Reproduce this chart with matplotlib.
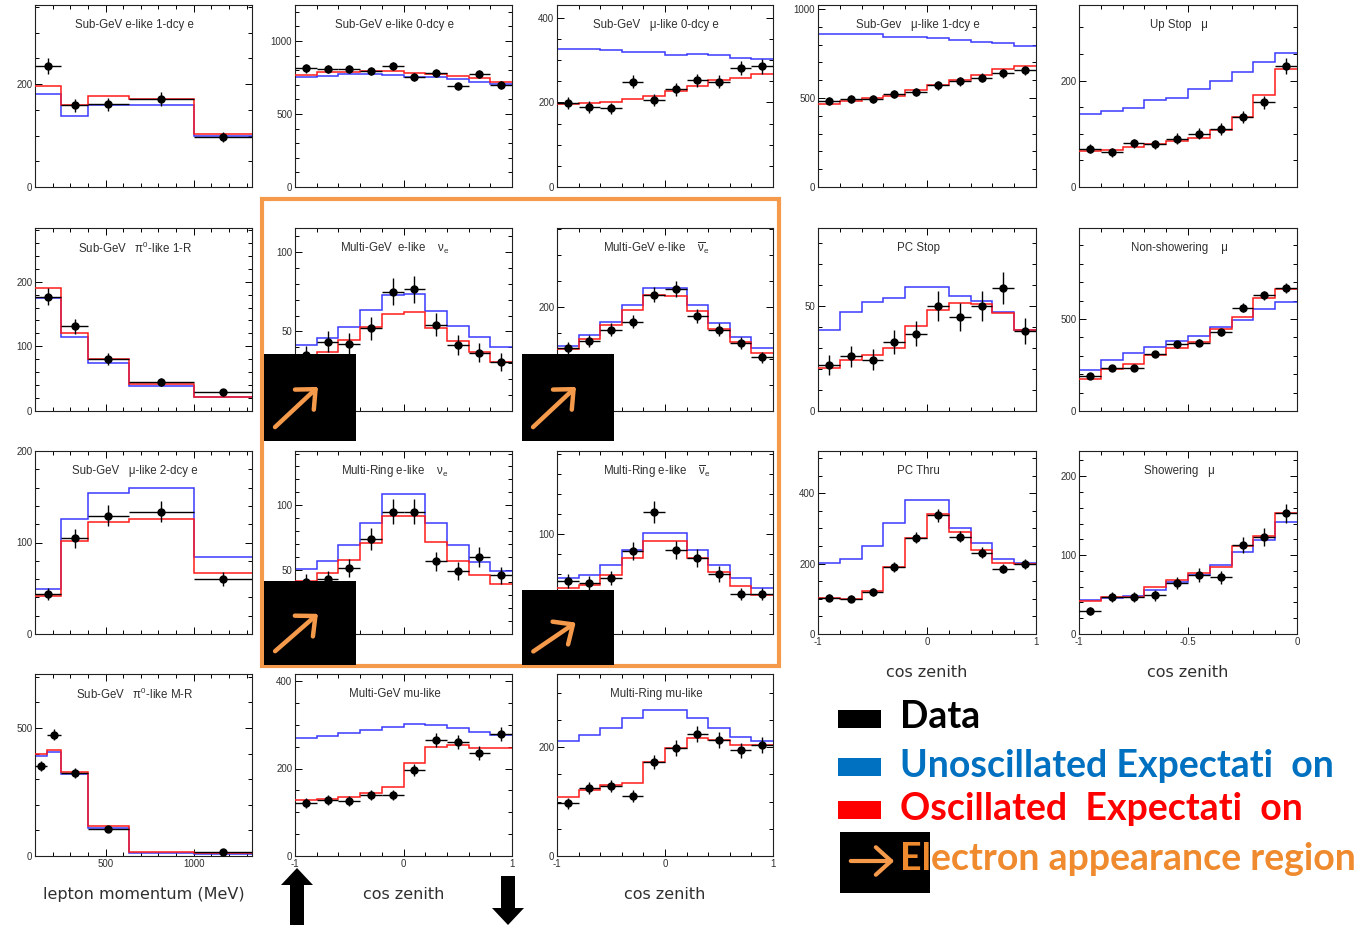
import numpy as np
import matplotlib
matplotlib.use("Agg")
import matplotlib.pyplot as plt
from matplotlib.ticker import MultipleLocator, FormatStrFormatter
from matplotlib.patches import Rectangle, FancyArrowPatch, Polygon

plt.rcParams['axes.unicode_minus'] = False
plt.rcParams['mathtext.default'] = 'regular'
plt.rcParams['font.family'] = ['Liberation Sans', 'DejaVu Sans']

W, H = 1372, 925

# binning
mom_edges = [100, 250, 400, 630, 1000, 1330]
pi0mr_edges = [100, 170, 250, 400, 630, 1000, 1330]
cosz_edges = np.round(np.linspace(-1, 1, 11), 2)
upmu_edges = np.round(np.linspace(-1, 0, 11), 2)

# Sub-GeV e-like 1-dcy e
sge1d_unosc = [180, 138, 160, 159, 99]
sge1d_osc = [197, 160, 177, 171, 103]
sge1d_data = [236, 159, 161, 171, 97]

# Sub-GeV e-like 0-dcy e
sge0d_unosc = [751, 760, 771, 773, 764, 755, 751, 741, 721, 703]
sge0d_osc = [767, 789, 789, 794, 794, 783, 773, 760, 744, 721]
sge0d_data = [812, 808, 808, 794, 831, 755, 783, 693, 773, 698]

# Sub-GeV mu-like 0-dcy e
sgmu0d_unosc = [326, 326, 324, 318, 318, 312, 314, 312, 304, 302]
sgmu0d_osc = [195, 198, 202, 209, 214, 227, 238, 252, 257, 266]
sgmu0d_data = [198, 189, 186, 249, 206, 231, 252, 249, 281, 285]

# Sub-GeV mu-like 1-dcy e
sgmu1d_unosc = [858, 858, 858, 845, 845, 838, 823, 815, 806, 791]
sgmu1d_osc = [468, 485, 498, 509, 543, 571, 603, 631, 660, 681]
sgmu1d_data = [481, 496, 496, 522, 532, 571, 593, 614, 640, 655]

# Upward stopping mu
upstop_unosc = [138, 143, 148, 164, 168, 184, 199, 216, 234, 251]
upstop_osc = [68, 70, 75, 81, 86, 93, 108, 131, 173, 221]
upstop_data = [72, 65, 82, 80, 91, 100, 109, 132, 159, 228]

# Sub-GeV pi0-like 1-R
sgpi1r_unosc = [175, 115, 75, 39, 21]
sgpi1r_osc = [190, 120, 80, 41, 22]
sgpi1r_data = [177, 131, 80, 45, 29]

# Multi-GeV e-like nu_e
mge_nue_unosc = [41.4, 45.6, 53, 63.5, 73, 73.6, 63, 53.6, 46.8, 40.3]
mge_nue_osc = [33, 37.3, 44.5, 52.5, 61, 62, 52, 43.9, 37.1, 31]
mge_nue_data = [35, 43.5, 42.4, 52, 75, 76.4, 54.2, 41.6, 36.7, 31]

# Multi-GeV e-like nu_e bar
mge_nuebar_unosc = [125.6, 147, 172, 204.5, 236, 236, 204.5, 169, 142, 121]
mge_nuebar_osc = [118.6, 139, 165, 195, 224, 222, 192, 158, 132, 112]
mge_nuebar_data = [121, 135, 156, 172, 224, 235, 183, 156, 131, 103]

# PC stop
pcstop_unosc = [38.4, 47.1, 51.9, 53.5, 59, 59, 54.8, 52.2, 46.9, 38.6]
pcstop_osc = [20.6, 24.1, 26.8, 30, 40.3, 47.9, 51.4, 51.1, 46.7, 38.4]
pcstop_data = [22, 26, 24.4, 32.9, 36.8, 50, 44.8, 50, 58.3, 38.1]

# Non-showering upward-through mu
nonshow_unosc = [222, 276, 313, 349, 382, 409, 455, 495, 553, 595]
nonshow_osc = [176, 227, 256, 304, 344, 373, 447, 513, 613, 662]
nonshow_data = [191, 236, 236, 309, 362, 371, 427, 562, 629, 669]

# Sub-GeV mu-like 2-dcy e
sgmu2d_unosc = [49.5, 125.6, 153.8, 159.3, 84.2]
sgmu2d_osc = [41.4, 101.8, 122.7, 125.6, 67]
sgmu2d_data = [44, 104.4, 129.3, 133.7, 59.7]

# Multi-Ring e-like nu_e
mre_nue_unosc = [50.5, 56.9, 69, 85.9, 108.7, 108.7, 85.9, 69, 56.2, 49.2]
mre_nue_osc = [41.5, 47.4, 57.7, 70.5, 91.5, 91.5, 71.5, 56.9, 45.4, 39]
mre_nue_data = [40, 42.3, 51.3, 73.6, 94.9, 94.9, 56.4, 48.7, 59.5, 45.4]

# Multi-Ring e-like nu_e bar
mre_nuebar_unosc = [56, 59, 69, 84, 101, 101, 84, 69, 56, 46]
mre_nuebar_osc = [46, 49, 59, 76, 93, 93, 76, 62, 48, 39]
mre_nuebar_data = [53, 51, 56, 83, 122, 84, 76, 60, 40, 40]

# PC through-going
pcthru_unosc = [203, 214, 251, 314, 380, 380, 300, 258, 212, 203]
pcthru_osc = [103, 100, 123, 191, 274, 340, 289, 240, 203, 200]
pcthru_data = [103, 100, 120, 191, 274, 337, 277, 231, 186, 200]

# Showering upward-through mu
shower_unosc = [43, 45.6, 48, 55.7, 65.8, 74.7, 87, 104, 119, 142]
shower_osc = [42, 47, 47, 59.5, 68, 77, 85, 111, 124, 154]
shower_data = [29, 47, 47, 49, 64.6, 74.7, 72, 112.7, 123, 153]

# Sub-GeV pi0-like M-R
sgpimr_unosc = [390, 406, 320, 109, 12, 8]
sgpimr_osc = [398, 414, 328, 117, 16, 12]
sgpimr_data = [352, 473, 324, 105, np.nan, 16]

# Multi-GeV mu-like
mgmu_unosc = [270, 274, 281, 288, 295, 302, 299, 293, 283, 277]
mgmu_osc = [128, 130, 135, 144, 158, 213, 249, 254, 247, 247]
mgmu_data = [121, 128, 126, 139, 139, 197, 265, 261, 235, 279]

# Multi-Ring mu-like
mrmu_unosc = [211, 222, 235, 253, 268, 268, 253, 235, 218, 211]
mrmu_osc = [108, 121, 130, 134, 172, 198, 216, 213, 204, 204]
mrmu_data = [97, 125, 128, 110, 172, 198, 224, 213, 194, 204]

# (row, col, title, edges, unosc, osc, data, ytop, ymajor, yminor, xlabel)
panels = [
    (0, 0, "Sub-GeV e-like 1-dcy e", mom_edges, sge1d_unosc, sge1d_osc, sge1d_data, 354, 200, 50, None),
    (0, 1, "Sub-GeV e-like 0-dcy e", cosz_edges, sge0d_unosc, sge0d_osc, sge0d_data, 1247, 500, 100, None),
    (0, 2, "Sub-GeV   \u03bc-like 0-dcy e", cosz_edges, sgmu0d_unosc, sgmu0d_osc, sgmu0d_data, 430, 200, 50, None),
    (0, 3, "Sub-Gev   \u03bc-like 1-dcy e", cosz_edges, sgmu1d_unosc, sgmu1d_osc, sgmu1d_data, 1022, 500, 100, None),
    (0, 4, "Up Stop   \u03bc", upmu_edges, upstop_unosc, upstop_osc, upstop_data, 342, 200, 50, None),
    (1, 0, "Sub-GeV   \u03c0$^{0}$-like 1-R", mom_edges, sgpi1r_unosc, sgpi1r_osc, sgpi1r_data, 283, 100, 20, None),
    (1, 1, "Multi-GeV  e-like    \u03bd$_{e}$", cosz_edges, mge_nue_unosc, mge_nue_osc, mge_nue_data, 115, 50, 10, None),
    (1, 2, "Multi-GeV e-like    $\\overline{\u03bd}_{e}$", cosz_edges, mge_nuebar_unosc, mge_nuebar_osc, mge_nuebar_data, 352, 200, 50, None),
    (1, 3, "PC Stop", cosz_edges, pcstop_unosc, pcstop_osc, pcstop_data, 87, 50, 10, None),
    (1, 4, "Non-showering    \u03bc", upmu_edges, nonshow_unosc, nonshow_osc, nonshow_data, 995, 500, 100, None),
    (2, 0, "Sub-GeV   \u03bc-like 2-dcy e", mom_edges, sgmu2d_unosc, sgmu2d_osc, sgmu2d_data, 200, 100, 20, None),
    (2, 1, "Multi-Ring e-like    \u03bd$_{e}$", cosz_edges, mre_nue_unosc, mre_nue_osc, mre_nue_data, 142, 50, 10, None),
    (2, 2, "Multi-Ring e-like    $\\overline{\u03bd}_{e}$", cosz_edges, mre_nuebar_unosc, mre_nuebar_osc, mre_nuebar_data, 183, 100, 20, None),
    (2, 3, "PC Thru", cosz_edges, pcthru_unosc, pcthru_osc, pcthru_data, 520, 200, 50, "cos zenith"),
    (2, 4, "Showering   \u03bc", upmu_edges, shower_unosc, shower_osc, shower_data, 232, 100, 20, "cos zenith"),
    (3, 0, "Sub-GeV   \u03c0$^{0}$-like M-R", pi0mr_edges, sgpimr_unosc, sgpimr_osc, sgpimr_data, 711, 500, 100, "lepton momentum (MeV)"),
    (3, 1, "Multi-GeV mu-like", cosz_edges, mgmu_unosc, mgmu_osc, mgmu_data, 416, 200, 50, "cos zenith"),
    (3, 2, "Multi-Ring mu-like", cosz_edges, mrmu_unosc, mrmu_osc, mrmu_data, 334, 200, 50, "cos zenith"),
]

col_x = [(35, 252), (295, 512), (557, 773), (818, 1036), (1079, 1297)]
row_y = [(5, 187), (228, 411), (451, 634), (674, 856)]

fig = plt.figure(figsize=(W / 100, H / 100), dpi=100)

BLUE = '#3a3aff'
RED = '#ff1a1a'
TXT = '#303030'

for row, col, title, edges, unosc, osc, data, ytop, ymaj, ymin, xlabel in panels:
    x0, x1 = col_x[col]
    y0, y1 = row_y[row]
    ax = fig.add_axes([x0 / W, 1 - y1 / H, (x1 - x0) / W, (y1 - y0) / H])
    edges = np.asarray(edges, dtype=float)
    centers = 0.5 * (edges[1:] + edges[:-1])
    half = 0.5 * np.diff(edges)
    data = np.asarray(data, dtype=float)

    ax.stairs(unosc, edges, color=BLUE, lw=1.1, baseline=None, zorder=2)
    ax.stairs(osc, edges, color=RED, lw=1.1, baseline=None, zorder=3)
    # Poisson errors on the data
    ax.errorbar(centers, data, xerr=half, yerr=np.sqrt(data), fmt='o', color='k',
                ms=5, elinewidth=1.0, capsize=0, zorder=4)

    ax.set_xlim(edges[0], edges[-1])
    ax.set_ylim(0, ytop)
    ax.yaxis.set_major_locator(MultipleLocator(ymaj))
    ax.yaxis.set_minor_locator(MultipleLocator(ymin))
    if edges[0] == 100:
        ax.xaxis.set_major_locator(MultipleLocator(500))
        ax.xaxis.set_minor_locator(MultipleLocator(100))
    elif edges[-1] == 0:
        ax.xaxis.set_major_locator(MultipleLocator(0.5))
        ax.xaxis.set_minor_locator(MultipleLocator(0.1))
    else:
        ax.xaxis.set_major_locator(MultipleLocator(1))
        ax.xaxis.set_minor_locator(MultipleLocator(0.2))
    ax.xaxis.set_major_formatter(FormatStrFormatter('%g'))
    ax.tick_params(which='both', direction='in', top=True, right=True,
                   labelsize=7, labelcolor=TXT, width=0.7, pad=2)
    ax.tick_params(which='major', length=5)
    ax.tick_params(which='minor', length=3)
    for s in ax.spines.values():
        s.set_linewidth(0.8)
        s.set_color('#202020')

    if xlabel is None:
        ax.tick_params(labelbottom=False)
    else:
        if edges[0] == 100:
            ax.set_xticks([500, 1000])
        ax.set_xlabel(xlabel, fontsize=11.5, color=TXT, labelpad=13,
                      family='DejaVu Sans')

    ax.text(0.46, 0.89, title, transform=ax.transAxes, ha='center', va='center',
            fontsize=8.3, color=TXT)

# overlay in pixel coordinates for the frame, markers and key
ov = fig.add_axes([0, 0, 1, 1], zorder=10)
ov.set_xlim(0, W)
ov.set_ylim(H, 0)
ov.axis('off')
ov.patch.set_alpha(0)

ORANGE = '#f59a4a'
ov.add_patch(Rectangle((262, 199), 517, 467, fill=False, ec=ORANGE, lw=3.0))

for bx, by, bw, bh in [(264, 354, 92, 87), (522, 354, 92, 87),
                       (264, 581, 92, 84), (522, 590, 92, 75)]:
    ov.add_patch(Rectangle((bx, by), bw, bh, fc='black', ec='none'))
    ov.add_patch(FancyArrowPatch((bx + 9, by + bh - 12), (bx + 56, by + 31),
                                 arrowstyle='->,head_length=0.5,head_width=0.45',
                                 mutation_scale=22, lw=3.2, color=ORANGE))

# black block arrows under the Multi-GeV mu-like panel
ov.add_patch(Polygon([(297, 868), (313, 885), (304, 885), (304, 925),
                      (290, 925), (290, 885), (281, 885)], closed=True, fc='black'))
ov.add_patch(Polygon([(508, 925), (492, 908), (501, 908), (501, 876),
                      (515, 876), (515, 908), (524, 908)], closed=True, fc='black'))

# key
key_font = dict(family='Lato', weight='bold', fontsize=27, va='center', ha='left')
ov.add_patch(Rectangle((838, 710), 43, 18, fc='black', ec='none'))
ov.text(900, 717, "Data", color='black', **key_font)
ov.add_patch(Rectangle((838, 758), 43, 18, fc='#0070c0', ec='none'))
ov.text(900, 766, "Unoscillated Expectati  on", color='#0070c0', **key_font)
ov.add_patch(Rectangle((838, 801), 43, 18, fc='#ff0000', ec='none'))
ov.text(900, 809, "Oscillated  Expectati  on", color='#ff0000', **key_font)
ov.add_patch(Rectangle((840, 832), 90, 61, fc='black', ec='none'))
ov.add_patch(FancyArrowPatch((848, 861), (897, 861),
                             arrowstyle='->,head_length=0.5,head_width=0.45',
                             mutation_scale=22, lw=3.0, color=ORANGE))
ov.text(900, 859, "Electron appearance region", color='#ef8a2e', **key_font)

fig.savefig("out.png", dpi=100)
